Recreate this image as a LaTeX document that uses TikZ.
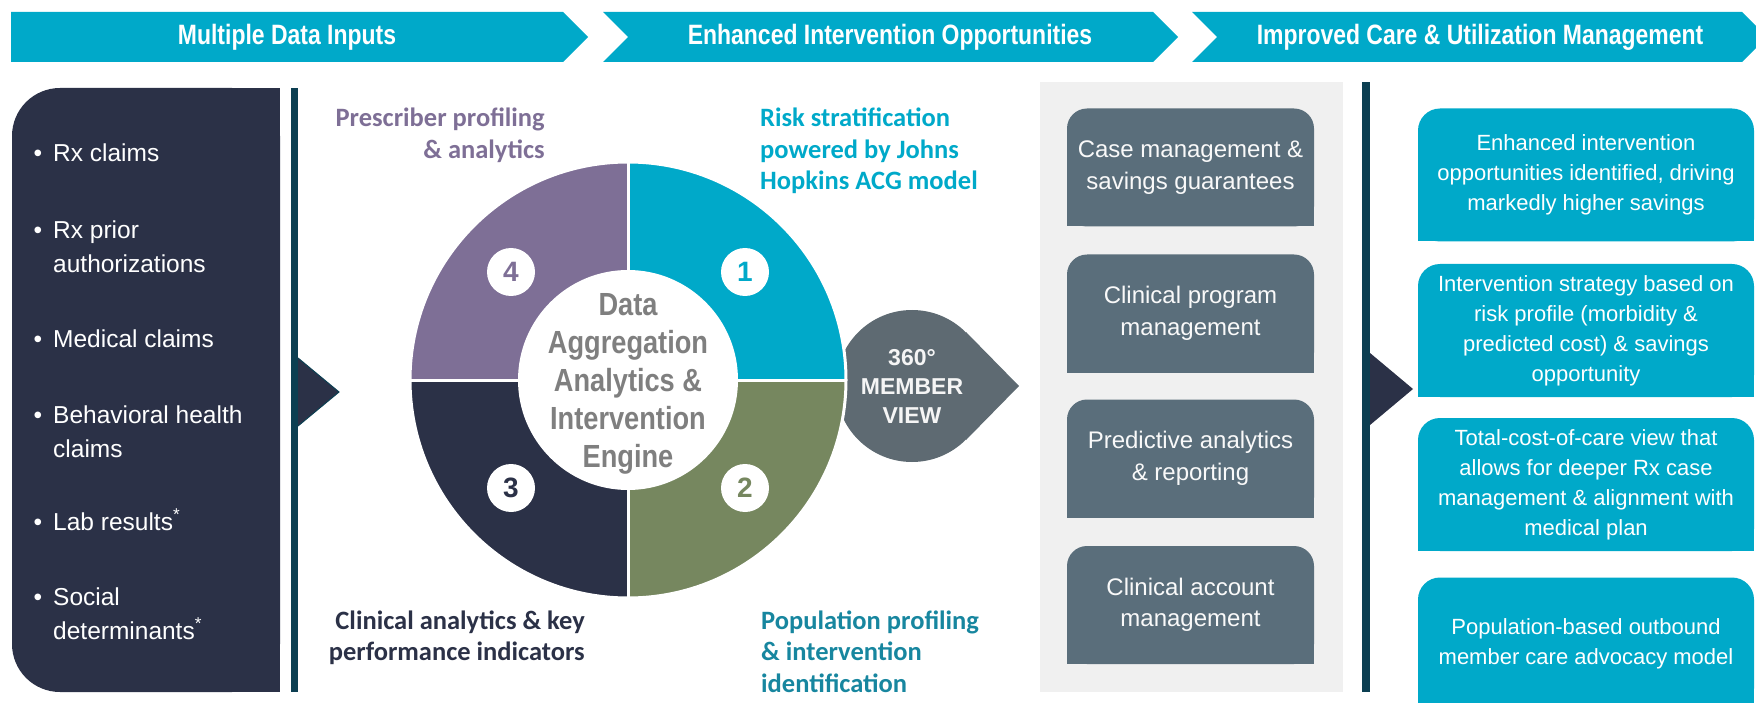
\documentclass[tikz,border=0pt]{standalone}
\usepackage{fontspec}
\setmainfont{Liberation Sans}
\newfontfamily\headfont[FakeStretch=0.82]{Liberation Sans}
\newfontfamily\hubfont[FakeStretch=0.85]{Liberation Sans}
\newfontfamily\calfont{Carlito}
\usetikzlibrary{positioning}
\definecolor{banner}{HTML}{00A9C9}
\definecolor{navy}{HTML}{2B3147}
\definecolor{rail}{HTML}{0C3F52}
\definecolor{lilac}{HTML}{7E6F96}
\definecolor{olive}{HTML}{76875F}
\definecolor{slate}{HTML}{5A6E7B}
\definecolor{blob}{HTML}{5E6A72}
\definecolor{engine}{HTML}{7F7F7F}
\definecolor{panel}{HTML}{F0F0F0}
\definecolor{poptext}{HTML}{17869F}

\begin{document}
\begin{tikzpicture}[x=1pt,y=-1pt,
    head/.style={text=white,font=\headfont\bfseries\fontsize{28}{30}\selectfont},
    item/.style={anchor=base west,align=left,inner sep=0pt,text=white,font=\fontsize{24.5}{34}\selectfont},
    seglabel/.style={inner sep=0pt,font=\calfont\bfseries\fontsize{26.5}{31.5}\selectfont},
    num/.style={circle,fill=white,minimum size=48pt,inner sep=0pt,font=\bfseries\fontsize{28}{28}\selectfont},
    tool/.style={fill=slate,rounded corners=20pt,minimum width=247pt,minimum height=118pt,align=center,text=white!95!gray,font=\fontsize{24}{31.5}\selectfont},
    gain/.style={fill=banner,rounded corners=22pt,minimum width=336pt,minimum height=133pt,align=center,text=white,font=\fontsize{22}{30}\selectfont}]
    \useasboundingbox (0,0) rectangle (1756,703);
    \clip (0,0) rectangle (1756,703);

    \fill[banner] (11,12) -- (563,12) -- (588,37) -- (563,62) -- (11,62) -- cycle;
    \fill[banner] (603,12) -- (1153,12) -- (1178,37) -- (1153,62) -- (603,62) -- (628,37) -- cycle;
    \fill[banner] (1192,12) -- (1742,12) -- (1767,37) -- (1742,62) -- (1192,62) -- (1217,37) -- cycle;
    \node[head] (hin) at (287,37) {Multiple Data Inputs};
    \node[head] (hopp) at (890,37) {Enhanced Intervention Opportunities};
    \node[head] (hcare) at (1480,37) {Improved Care \& Utilization Management};

    \fill[navy,rounded corners=48pt] (12,88) rectangle (280,692);
    \fill[navy] (150,88) rectangle (280,692);
    \foreach \bb/\by/\txt [count=\i] in {162/162/{Rx claims}, 239/273/{Rx prior\\authorizations}, 347/347/{Medical claims},
        423/457/{Behavioral health\\claims}, 530/530/{Lab results\textsuperscript{*}}, 605/639/{Social\\determinants\textsuperscript{*}}} {
        \node[item] (in\i) at (53,\by) {\txt};
        \node[item,anchor=base] (dot\i) at (38,\bb) {•};
    }
    \fill[rail] (291,88) rectangle (298,692);
    \fill[navy] (298,358) -- (339,392) -- (298,426) -- cycle;
    \draw[rail,line width=1pt] (298,358) -- (339,392) -- (298,426);

    \fill[blob] (912,386) circle (76);
    \fill[blob] (966,332) -- (1019,386) -- (966,440) -- cycle;
    \node[align=center,text=white!92!gray,font=\bfseries\fontsize{23}{29}\selectfont] (view) at (912,386) {360°\\MEMBER\\VIEW};

    \begin{scope}
        \clip (628,380) circle (217);
        \fill[banner] (628,380) rectangle (845,163);
        \fill[olive] (628,380) rectangle (845,597);
        \fill[navy] (628,380) rectangle (411,597);
        \fill[lilac] (628,380) rectangle (411,163);
    \end{scope}
    \draw[white,line width=3pt] (628,163) -- (628,597) (411,380) -- (845,380);
    \draw[white,line width=3pt] (628,380) circle (218);
    \node[circle,fill=white,minimum size=220pt,inner sep=0pt] (hub) at (628,380) {};
    \node[align=center,inner sep=0pt,anchor=base,text=engine,font=\hubfont\bfseries\fontsize{32}{38}\selectfont] (engine) at (628,467) {Data\\Aggregation\\Analytics \&\\Intervention\\Engine};
    \node[num,text=banner] (n1) at (745,272) {1};
    \node[num,text=olive] (n2) at (745,488) {2};
    \node[num,text=navy] (n3) at (511,488) {3};
    \node[num,text=lilac] (n4) at (511,272) {4};

    \node[seglabel,text=lilac,align=right,anchor=base east] (presc) at (545,158.5) {Prescriber profiling\\\& analytics};
    \node[seglabel,text=banner,align=left,anchor=base west] (risk) at (760,190) {Risk stratification\\powered by Johns\\Hopkins ACG model};
    \node[seglabel,text=navy,align=right,anchor=base east] (kpi) at (585,660.5) {Clinical analytics \& key\\performance indicators};
    \node[seglabel,text=poptext,align=left,anchor=base west] (pop) at (761,692) {Population profiling\\\& intervention\\identification};

    \fill[panel] (1040,82) rectangle (1343,692);
    \foreach \ty/\txt [count=\i] in {167.5/{Case management \&\\savings guarantees}, 313.5/{Clinical program\\management},
        458.5/{Predictive analytics\\\& reporting}, 605/{Clinical account\\management}} {
        \fill[slate] (1067,\ty) rectangle (1314,\ty+59);
        \node[tool] (tool\i) at (1190.5,\ty) {\txt};
    }

    \fill[rail] (1362,82) rectangle (1370,692);
    \fill[navy] (1370,353) -- (1413,389) -- (1370,425) -- cycle;
    \foreach \gy/\txt [count=\i] in {175/{Enhanced intervention\\opportunities identified, driving\\markedly higher savings},
        330.5/{Intervention strategy based on\\risk profile (morbidity \&\\predicted cost) \& savings\\opportunity},
        484.5/{Total-cost-of-care view that\\allows for deeper Rx case\\management \& alignment with\\medical plan},
        644/{Population-based outbound\\member care advocacy model}} {
        \fill[banner] (1418,\gy) rectangle (1754,\gy+66.5);
        \node[gain] (gain\i) at (1586,\gy) {\txt};
    }
\end{tikzpicture}
\end{document}
